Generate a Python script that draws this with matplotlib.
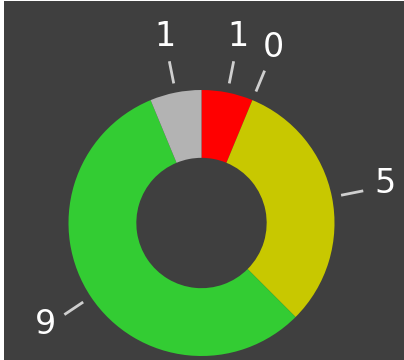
import numpy as np
import matplotlib
matplotlib.use("Agg")
import matplotlib.pyplot as plt

# Status counts, clockwise from 12 o'clock
statuses = ["Critical", "Major", "Minor", "OK", "Unknown"]
counts = [1, 0, 5, 9, 1]
colors = ["#ff0000", "#ff8c00", "#c8c800", "#33cc33", "#b3b3b3"]

BG = "#3f3f3f"
W, H, DPI = 404, 360, 100

fig = plt.figure(figsize=(W / DPI, H / DPI), dpi=DPI, facecolor="white")
# thin white frame on the left/top edge
ax = fig.add_axes([4 / W, 0, (W - 4) / W, (H - 1) / H])
ax.set_facecolor(BG)

# centre of the ring in pixel space, radius 133 px
cx, cy, rpx = 201.5 - 4, 360 - 223, 133.0
ax_w, ax_h = W - 4, H - 1

wedges, _ = ax.pie(
    counts,
    colors=colors,
    startangle=90,
    counterclock=False,
    radius=1.0,
    wedgeprops=dict(width=0.51, linewidth=0),
    normalize=True,
)
ax.set_xlim(-cx / rpx, (ax_w - cx) / rpx)
ax.set_ylim(-cy / rpx, (ax_h - cy) / rpx)
ax.set_aspect("equal", adjustable="box")
ax.set_axis_off()
ax.add_patch(plt.Rectangle((-10, -10), 20, 20, color=BG, zorder=0))

for wedge, value in zip(wedges, counts):
    mid = np.deg2rad((wedge.theta1 + wedge.theta2) / 2)
    dx, dy = np.cos(mid), np.sin(mid)
    ax.plot([1.07 * dx, 1.24 * dx], [1.07 * dy, 1.24 * dy],
            color="#cfcfcf", lw=2.0, solid_capstyle="butt")
    ax.text(1.41 * dx, 1.41 * dy + 0.02, str(value), color="white",
            fontsize=24, ha="center", va="center", family="DejaVu Sans")

fig.savefig("out.png", dpi=DPI, facecolor="white")
